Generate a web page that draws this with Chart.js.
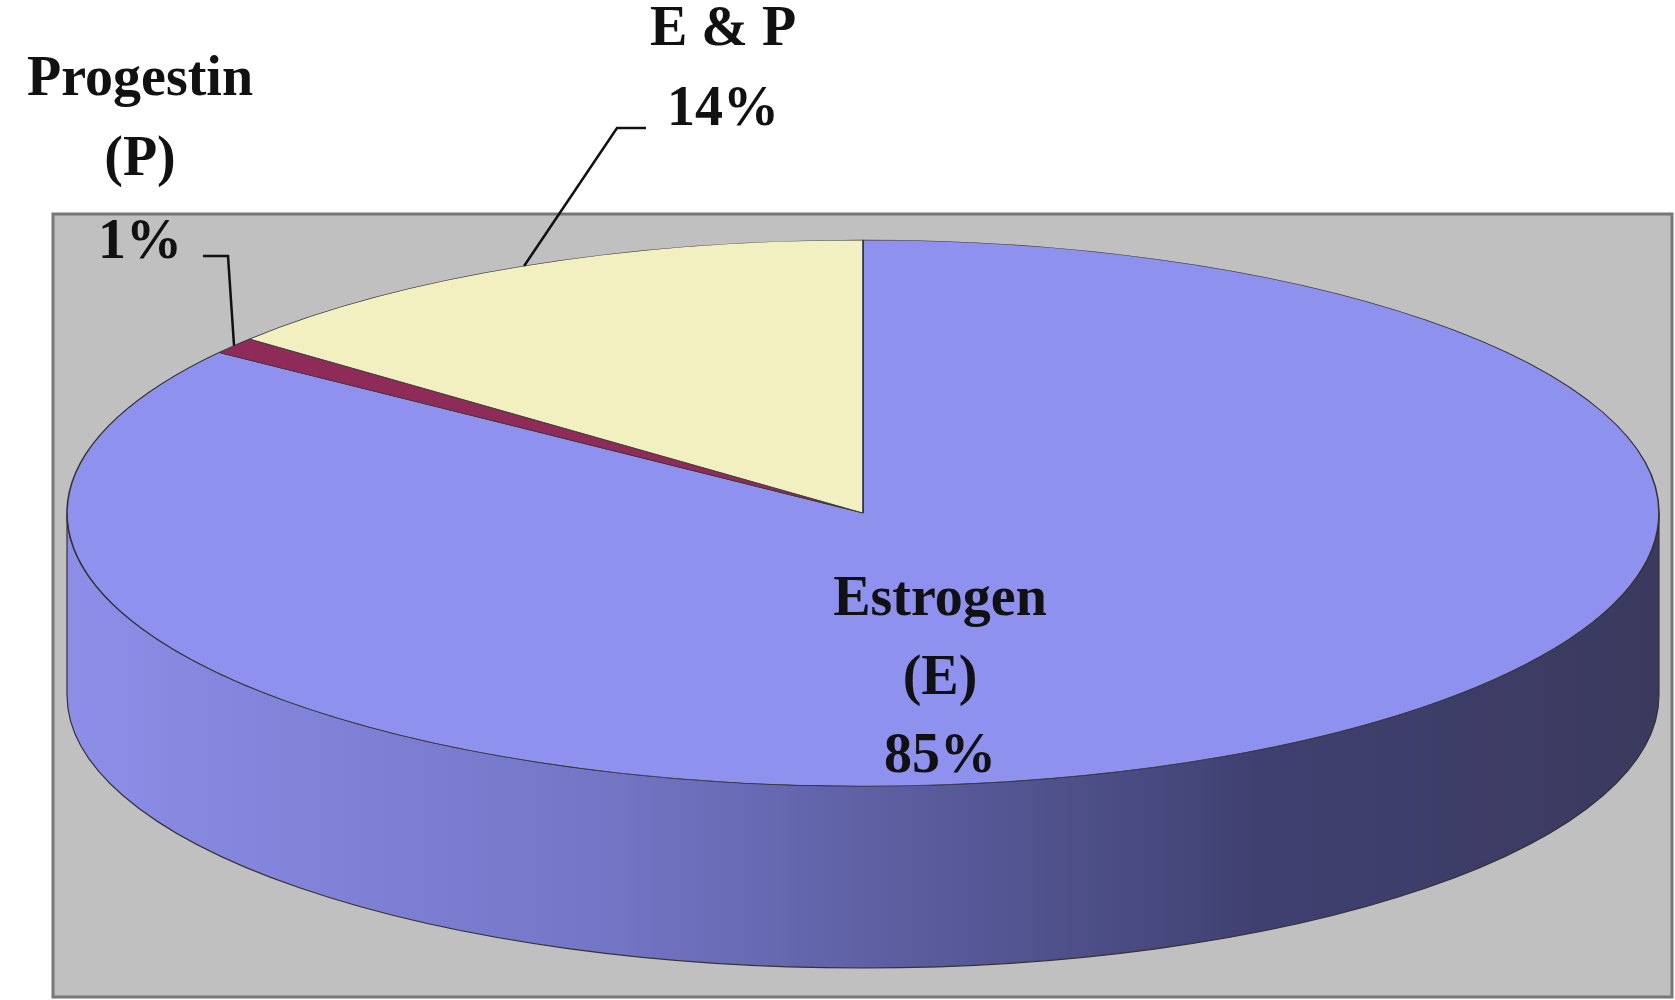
<!DOCTYPE html>
<html>
<head>
<meta charset="utf-8">
<script src="https://cdn.jsdelivr.net/npm/chart.js@4"></script>
<style>
  html, body { margin: 0; padding: 0; background: #fff; }
  #wrap { width: 1675px; height: 1000px; position: relative; }
</style>
</head>
<body>
<div id="wrap"><canvas id="myChart"></canvas></div>
<script>
var categories = ["Estrogen (E)", "Progestin (P)", "E & P"];
var shares = [85, 1, 14];
var colors = ["#8f91ef", "#8e2b58", "#f2f0c0"];

// ellipse geometry for the fake 3D look
var E = { cx: 863, cy: 513, rx: 796, ry: 273, depth: 182 };

function toEllipse(chart, ctx) {
  var arc = chart.getDatasetMeta(0).data[0];
  var r0 = arc.outerRadius;
  ctx.translate(E.cx, E.cy);
  ctx.scale(E.rx / r0, E.ry / r0);
  ctx.translate(-arc.x, -arc.y);
}

function edgePoint(el) {
  var a = (el.startAngle + el.endAngle) / 2;
  return { x: E.cx + E.rx * Math.cos(a), y: E.cy + E.ry * Math.sin(a) };
}

var pie3d = {
  id: 'pie3d',
  beforeDraw: function (chart) {
    var ctx = chart.ctx;
    ctx.save();
    ctx.fillStyle = '#c0c0c0';
    ctx.fillRect(53, 214, 1619, 783);
    ctx.strokeStyle = '#777';
    ctx.lineWidth = 3;
    ctx.strokeRect(53, 214, 1619, 783);
    ctx.restore();
  },
  beforeDatasetsDraw: function (chart) {
    var ctx = chart.ctx;
    ctx.save();
    var g = ctx.createLinearGradient(E.cx - E.rx, 0, E.cx + E.rx, 0);
    g.addColorStop(0, '#8c8ee8');
    g.addColorStop(0.35, '#7274c4');
    g.addColorStop(0.75, '#3f4070');
    g.addColorStop(1, '#3a3a5e');
    ctx.beginPath();
    ctx.ellipse(E.cx, E.cy + E.depth, E.rx, E.ry, 0, 0, Math.PI);
    ctx.ellipse(E.cx, E.cy, E.rx, E.ry, 0, Math.PI, 0, true);
    ctx.closePath();
    ctx.fillStyle = g;
    ctx.fill();
    ctx.strokeStyle = '#333';
    ctx.lineWidth = 1.2;
    ctx.stroke();
    toEllipse(chart, ctx);
  },
  afterDatasetsDraw: function (chart) {
    chart.ctx.restore();
  },
  afterDraw: function (chart) {
    var ctx = chart.ctx;
    var els = chart.getDatasetMeta(0).data;
    ctx.save();
    ctx.fillStyle = '#111';
    ctx.font = 'bold 56px "Liberation Serif", serif';
    ctx.textAlign = 'center';
    ctx.textBaseline = 'alphabetic';
    // Estrogen inside
    ctx.fillText('Estrogen', 940, 615);
    ctx.fillText('(E)', 940, 694);
    ctx.fillText(shares[0] + '%', 940, 772);
    // Progestin
    ctx.fillText('Progestin', 140, 95);
    ctx.fillText('(P)', 140, 175);
    ctx.fillText(shares[1] + '%', 140, 258);
    // E & P
    ctx.fillText('E & P', 723, 45);
    ctx.fillText(shares[2] + '%', 723, 125);
    // leader lines
    ctx.strokeStyle = '#111';
    ctx.lineWidth = 2.5;
    var p = edgePoint(els[1]);
    ctx.beginPath();
    ctx.moveTo(p.x, p.y);
    ctx.lineTo(228, 256);
    ctx.lineTo(203, 256);
    ctx.stroke();
    var q = edgePoint(els[2]);
    ctx.beginPath();
    ctx.moveTo(q.x, q.y);
    ctx.lineTo(617, 128);
    ctx.lineTo(646, 128);
    ctx.stroke();
    ctx.restore();
  }
};

new Chart(document.getElementById('myChart'), {
  type: 'pie',
  data: {
    labels: categories,
    datasets: [{
      data: shares,
      backgroundColor: colors,
      borderColor: '#333',
      borderWidth: 1
    }]
  },
  options: {
    responsive: true,
    maintainAspectRatio: false,
    animation: false,
    plugins: { legend: { display: false }, tooltip: { enabled: false } }
  },
  plugins: [pie3d]
});
</script>
</body>
</html>
